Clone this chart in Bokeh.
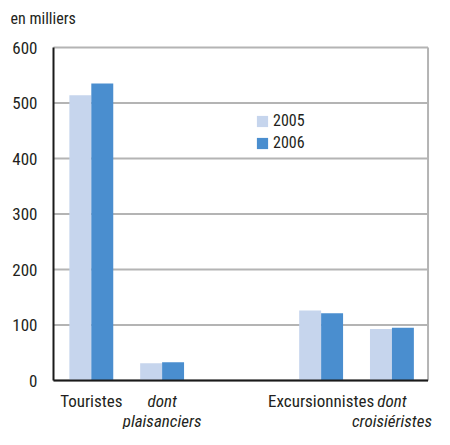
from bokeh.plotting import figure
from bokeh.models import Legend, LegendItem, Range1d
from bokeh.core.properties import value
from bokeh.embed import file_html
from bokeh.resources import INLINE

# ---- data ----
categories = ["Touristes", "dont\nplaisanciers", "Excursionnistes", "dont\ncroisiéristes"]
italic = [False, True, False, True]
years = ["2005", "2006"]
v2005 = [514, 31, 126, 93]
v2006 = [535, 33, 121, 95]
y_ticks = [0, 100, 200, 300, 400, 500, 600]
unit_label = "en milliers"

# ---- layout (pixel geometry of the canvas) ----
W, H = 434, 429
X0_PX = 53          # canvas x of the value axis
UNIT_PX = 70.8      # pixels per category unit
Y0_PX = 380         # canvas y of value 0
Y600_PX = 47        # canvas y of value 600
x_pos = [0.534, 1.534, 3.78, 4.78]
x_end = 5.29
bw = 0.31
FONT = value("Roboto Condensed")
C_LIGHT = "#c6d5ed"
C_DARK = "#4a8ecf"
TXT = "#231f20"
GRID = "#b4b4b4"

PPU = (Y0_PX - Y600_PX) / 600.0


def dx(px):
    return (px - X0_PX) / UNIT_PX


def dy(py):
    return (Y0_PX - py) / PPU


p = figure(width=W, height=H, output_backend="svg", toolbar_location=None,
           x_range=Range1d(dx(0), dx(W)), y_range=Range1d(dy(H), dy(0)),
           min_border=0)
p.axis.visible = False
p.grid.visible = False
p.outline_line_color = None

# gridlines
p.segment(x0=[0] * len(y_ticks), x1=[x_end] * len(y_ticks), y0=y_ticks, y1=y_ticks,
          line_color=GRID, line_width=2)
# right border
p.segment(x0=[x_end], x1=[x_end], y0=[0], y1=[y_ticks[-1]], line_color=GRID, line_width=2)

r1 = p.vbar(x=[x - bw / 2 for x in x_pos], top=v2005, width=bw, bottom=0,
            fill_color=C_LIGHT, line_color=None)
r2 = p.vbar(x=[x + bw / 2 for x in x_pos], top=v2006, width=bw, bottom=0,
            fill_color=C_DARK, line_color=None)

# axes lines
p.segment(x0=[0], x1=[0], y0=[0], y1=[y_ticks[-1]], line_color="#1a1a1a", line_width=2)
p.segment(x0=[0], x1=[x_end], y0=[0], y1=[0], line_color="#1a1a1a", line_width=2)

# y tick labels
p.text(x=[dx(37)] * len(y_ticks), y=y_ticks, text=[str(t) for t in y_ticks],
       text_align="right", text_baseline="middle", text_font=FONT,
       text_font_size="17px", text_color=TXT)

# category labels
row_y = [dy(400), dy(420)]
for x, cat, it in zip(x_pos, categories, italic):
    for i, line in enumerate(cat.split("\n")):
        p.text(x=[x], y=[row_y[i]], text=[line], text_align="center",
               text_baseline="middle", text_font=FONT, text_font_size="17px",
               text_font_style="italic" if it else "normal", text_color=TXT)

# unit label
p.text(x=[dx(10)], y=[dy(18)], text=[unit_label], text_align="left",
       text_baseline="middle", text_font=FONT, text_font_size="16px", text_color=TXT)

legend = Legend(items=[LegendItem(label=years[0], renderers=[r1]),
                       LegendItem(label=years[1], renderers=[r2])],
                location=(255, H - 152), padding=0, margin=0, spacing=3,
                glyph_width=14, glyph_height=14, label_height=14, label_standoff=4,
                border_line_color=None, background_fill_alpha=0,
                label_text_font="Roboto Condensed", label_text_font_size="16px",
                label_text_color=TXT)
p.add_layout(legend)

open("out.html", "w").write(file_html(p, INLINE))
